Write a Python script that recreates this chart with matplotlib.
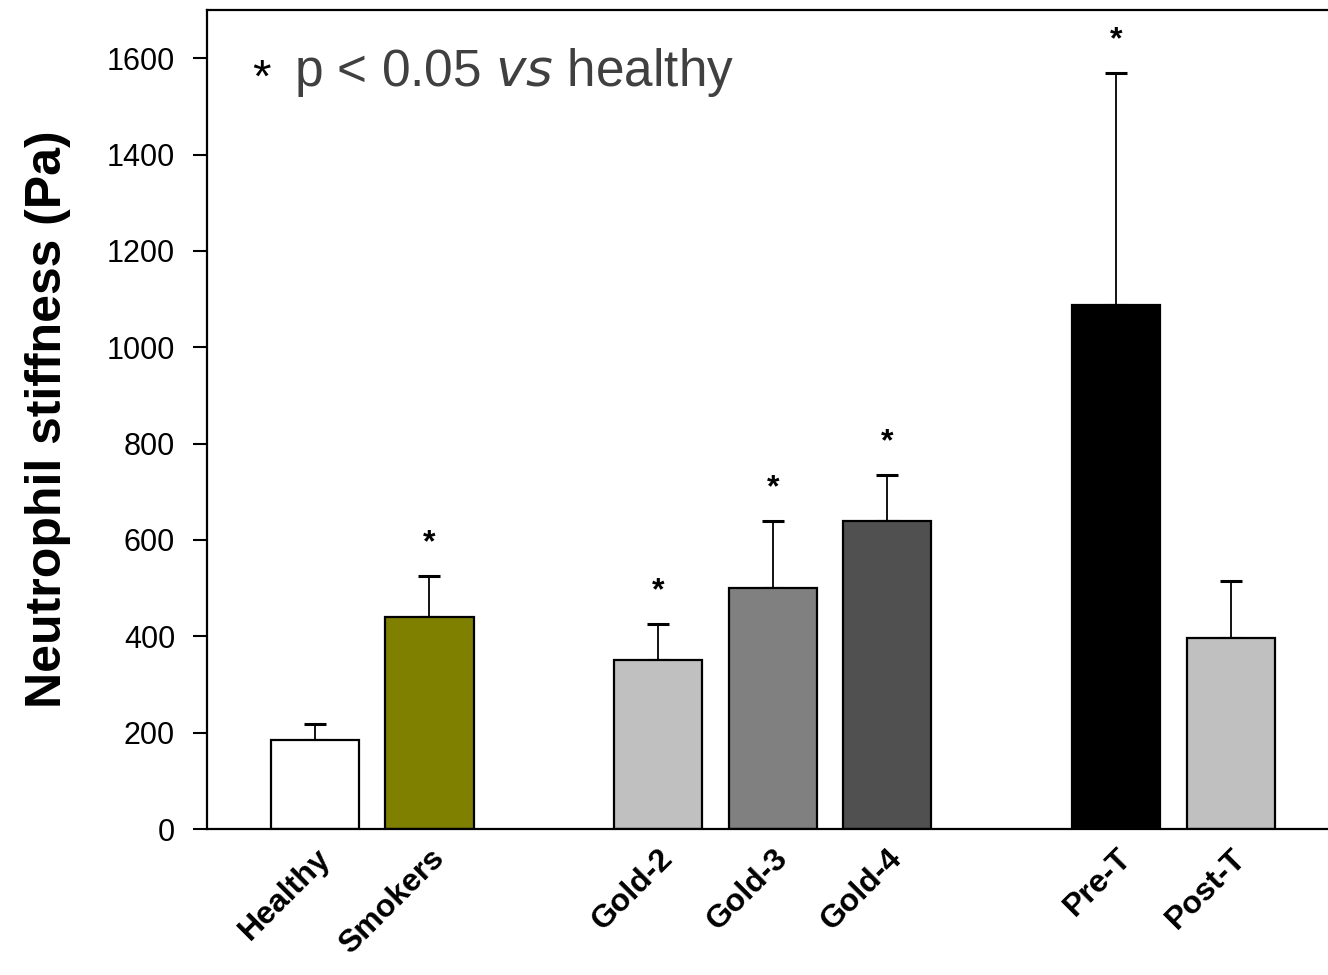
import numpy as np
import matplotlib
matplotlib.use("Agg")
import matplotlib.pyplot as plt

plt.rcParams["font.family"] = ["Liberation Sans", "DejaVu Sans"]

groups = ["Healthy", "Smokers", "Gold-2", "Gold-3", "Gold-4", "Pre-T", "Post-T"]
positions = [0, 1, 3, 4, 5, 7, 8]
means = [185, 440, 350, 500, 640, 1088, 397]
errors = [33, 85, 76, 140, 95, 482, 117]
colors = ["#ffffff", "#808000", "#c0c0c0", "#808080", "#505050", "#000000", "#c0c0c0"]
significant = [False, True, True, True, True, True, False]

fig = plt.figure(figsize=(13.28, 9.75), dpi=100)
ax = fig.add_axes([0.1559, 0.1497, 0.8441, 0.84])

ax.bar(positions, means, width=0.77, color=colors, edgecolor="black", linewidth=1.6, zorder=2)
ax.errorbar(positions, means, yerr=[np.zeros(len(means)), errors], fmt="none",
            ecolor="black", elinewidth=1.3, capsize=8, capthick=2.2, zorder=1)

for x, m, e, s in zip(positions, means, errors, significant):
    if s:
        ax.text(x, m + e + 68, "*", ha="center", va="center", fontsize=23, fontweight="bold")

ax.text(-0.47, 1555, "*", ha="center", va="center", fontsize=34, color="black")
ax.text(-0.18, 1570, "p < 0.05 $\\it{vs}$ healthy", ha="left", va="center",
        fontsize=37, color="#404040")

ax.set_xlim(-0.943, 8.85)
ax.set_ylim(0, 1700)
ax.set_yticks(np.arange(0, 1601, 200))
ax.tick_params(axis="y", labelsize=22, length=10, width=1.5, direction="out", pad=13)
ax.set_xticks(positions)
ax.set_xticklabels(groups, rotation=45, ha="right", rotation_mode="anchor",
                   fontsize=23, fontweight="bold")
ax.tick_params(axis="x", length=0, pad=10)

ax.spines["right"].set_visible(False)
for sp in ["left", "top", "bottom"]:
    ax.spines[sp].set_linewidth(1.6)

ax.set_ylabel("Neutrophil stiffness (Pa)", fontsize=36, fontweight="bold", labelpad=26)

fig.savefig("out.png", dpi=100)
